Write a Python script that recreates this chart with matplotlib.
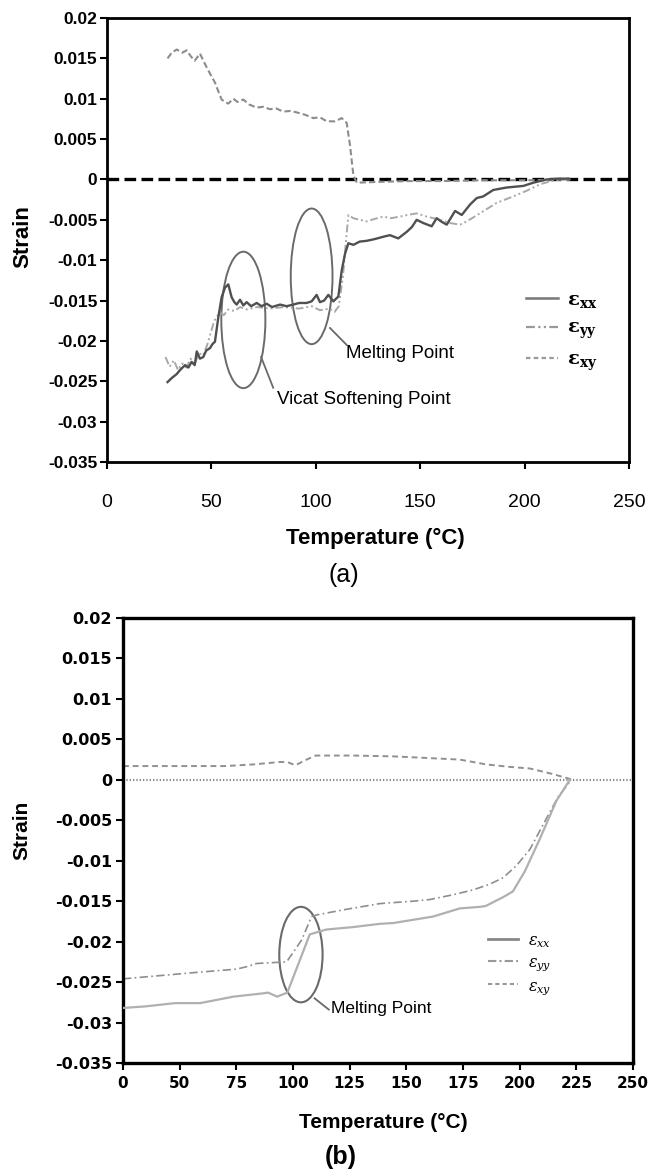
import numpy as np
import matplotlib
matplotlib.use("Agg")
import matplotlib.pyplot as plt
from matplotlib.patches import Ellipse

plt.rcParams['mathtext.fontset'] = 'dejavuserif'

# ---- (a) strain vs temperature ----
a_xx_t = [29, 31, 33.4, 35, 37.4, 39, 40.5, 42, 43, 44.5, 46.1, 47.5, 49.3, 50.5, 51.7,
          53.3, 54.9, 56.5, 58.1, 59.7, 61, 62.1, 63.7, 65.3, 66.9, 69, 71.7, 74, 76.5,
          79, 82.9, 86, 89.2, 92, 95.6, 98, 100.4, 102, 104, 106, 108.4, 110.8, 112.4,
          114, 115.6, 118, 121, 124.4, 128, 132.3, 135.5, 139.5, 143.5, 146, 148.3,
          151.5, 155.5, 157.9, 160, 162.7, 166.7, 169.9, 173.9, 177.1, 180.2, 185,
          191.4, 199.4, 204.2, 210.6, 217, 221]
a_xx = [-0.0251, -0.0246, -0.0241, -0.0236, -0.0230, -0.0233, -0.0226, -0.0230, -0.0213,
        -0.0222, -0.0220, -0.0212, -0.0209, -0.0204, -0.0201, -0.0171, -0.0146, -0.0134,
        -0.0130, -0.0146, -0.0152, -0.0155, -0.0149, -0.0156, -0.0152, -0.0157, -0.0153,
        -0.0157, -0.0154, -0.0158, -0.0155, -0.0157, -0.0155, -0.0153, -0.0153, -0.0151,
        -0.0143, -0.0152, -0.0150, -0.0143, -0.0151, -0.0145, -0.0113, -0.0092, -0.0079,
        -0.0081, -0.0077, -0.0076, -0.0074, -0.0071, -0.0069, -0.0073, -0.0065, -0.0059,
        -0.0050, -0.0054, -0.0058, -0.0048, -0.0052, -0.0056, -0.0039, -0.0044, -0.0031,
        -0.0023, -0.0021, -0.0013, -0.0010, -0.0008, -0.0004, 0.0000, 0.0001, 0.0001]

a_yy_t = [28, 30, 32, 34, 36, 38, 40, 42, 44, 46, 48, 50.8, 52, 54.1, 56, 58, 61, 63.7,
          67, 72, 78, 85, 92, 98, 102, 106.6, 109, 111, 113, 114.5, 115.6, 118, 121.2,
          124.4, 128, 132.3, 136, 140.3, 144, 148.3, 153.1, 159.5, 164.3, 169.1, 172.3,
          178.6, 186.6, 194.6, 201, 207.4, 214, 222]
a_yy = [-0.0220, -0.0232, -0.0224, -0.0236, -0.0228, -0.0233, -0.0222, -0.0229, -0.0215,
        -0.0218, -0.0205, -0.0180, -0.0172, -0.0165, -0.0168, -0.0161, -0.0163, -0.0158,
        -0.0161, -0.0158, -0.0160, -0.0158, -0.0160, -0.0157, -0.0162, -0.0160, -0.0164,
        -0.0157, -0.0120, -0.0075, -0.0044, -0.0048, -0.0050, -0.0052, -0.0049, -0.0046,
        -0.0048, -0.0046, -0.0044, -0.0042, -0.0046, -0.0050, -0.0054, -0.0056, -0.0052,
        -0.0042, -0.0029, -0.0021, -0.0014, -0.0006, -0.0001, 0.0000]

a_xy_t = [29, 31, 33.4, 36, 38.2, 40, 42, 44.5, 47.7, 50, 51.7, 53.5, 54.9, 56.5, 58.1,
          60.5, 62.5, 65.3, 68, 71.6, 75, 78, 81, 84.4, 88, 92.4, 95, 98.8, 102, 105.2,
          109.2, 112.4, 114.8, 116.4, 118, 119.6, 130, 145, 160, 180, 200, 222]
a_xy = [0.0150, 0.0157, 0.0161, 0.0157, 0.0160, 0.0153, 0.0147, 0.0156, 0.0139, 0.0128,
        0.0120, 0.0108, 0.0099, 0.0096, 0.0094, 0.0100, 0.0096, 0.0099, 0.0093, 0.0089,
        0.0090, 0.0087, 0.0088, 0.0084, 0.0085, 0.0082, 0.0080, 0.0076, 0.0077, 0.0072,
        0.0072, 0.0076, 0.0070, 0.0042, 0.0005, -0.0004, -0.0003, -0.0002, -0.0002,
        -0.0001, -0.0001, 0.0000]

# ---- (b) strain vs temperature ----
b_xx_t = [0, 20, 45.9, 59, 73.7, 86.5, 89, 93, 97.5, 107.4, 114.8, 126.5, 138.3, 144.2,
          161.8, 173.5, 182.4, 185, 192.7, 197, 202.3, 208.9, 216.2, 222.1]
b_xx = [-0.0282, -0.0280, -0.0276, -0.0276, -0.0268, -0.0264, -0.0263, -0.0268, -0.0263,
        -0.0191, -0.0185, -0.0182, -0.0178, -0.0177, -0.0169, -0.0159, -0.0157, -0.0156,
        -0.0145, -0.0138, -0.0113, -0.0073, -0.0026, 0.0]

b_yy_t = [0, 32.6, 57.5, 75.1, 79.5, 84, 97.2, 103.8, 108.2, 110.4, 123.6, 138.3, 153,
          160.3, 170.7, 179.5, 186.8, 192.7, 198.6, 204.5, 208.9, 213.3, 217, 222.8]
b_yy = [-0.0246, -0.0242, -0.0238, -0.0234, -0.0231, -0.0227, -0.0225, -0.0198, -0.0169,
        -0.0167, -0.0160, -0.0153, -0.0150, -0.0148, -0.0142, -0.0136, -0.0129, -0.0121,
        -0.0106, -0.0086, -0.0063, -0.0040, -0.0021, 0.0]

b_xy_t = [0, 25, 50, 70, 82.5, 94, 97.5, 101, 106, 110, 126.5, 144, 159, 173.6, 185.3,
          195.6, 204.5, 214.8, 223.5]
b_xy = [0.0017, 0.0017, 0.0017, 0.0017, 0.0019, 0.0022, 0.0022, 0.0018, 0.0025, 0.0030,
        0.0030, 0.0029, 0.0027, 0.0025, 0.0019, 0.0016, 0.0014, 0.0007, 0.0]

a_xticks = [0, 50, 100, 150, 200, 250]
b_xticks = [0, 50, 75, 100, 125, 150, 175, 200, 225, 250]
yticks = [0.02, 0.015, 0.01, 0.005, 0, -0.005, -0.01, -0.015, -0.02, -0.025, -0.03, -0.035]
ytick_labels = ['0.02', '0.015', '0.01', '0.005', '0', '-0.005', '-0.01', '-0.015',
                '-0.02', '-0.025', '-0.03', '-0.035']

leg_labels = [r'$\mathbf{\varepsilon_{xx}}$', r'$\mathbf{\varepsilon_{yy}}$',
              r'$\mathbf{\varepsilon_{xy}}$']
leg_labels_b = [r'$\varepsilon_{xx}$', r'$\varepsilon_{yy}$', r'$\varepsilon_{xy}$']

arial = ['Liberation Sans', 'DejaVu Sans']

W, H = 650, 1173
fig = plt.figure(figsize=(W / 100, H / 100), dpi=100)


def frame(ax, lw):
    for s in ax.spines.values():
        s.set_linewidth(lw)
        s.set_color('black')


# ================= panel (a) =================
ax1 = fig.add_axes([107 / W, 1 - 462 / H, (629 - 107) / W, (462 - 18) / H])
ax1.set_xlim(0, 250)
ax1.set_ylim(-0.035, 0.02)
frame(ax1, 2.0)
ax1.axhline(0, color='black', lw=2.4, ls=(0, (3.5, 1.6)), zorder=1)

ax1.plot(a_xy_t, a_xy, color='#8c8c8c', lw=1.5, ls=(0, (3, 1.5)), zorder=2)
ax1.plot(a_yy_t, a_yy, color='#a8a8a8', lw=1.4, ls=(0, (4, 1.5, 1, 1.5, 1, 1.5)), zorder=2)
ax1.plot(a_xx_t, a_xx, color='#505050', lw=1.7, zorder=3)

ax1.add_patch(Ellipse((65.3, -0.0174), 21.1, 0.0169, fill=False, ec='#6a6a6a', lw=1.4))
ax1.add_patch(Ellipse((98.0, -0.0120), 20.0, 0.0168, fill=False, ec='#6a6a6a', lw=1.4))
ax1.plot([73.8, 79.6], [-0.0220, -0.0258], color='#6a6a6a', lw=1.3)
ax1.plot([106.8, 114.8], [-0.0184, -0.0205], color='#6a6a6a', lw=1.3)
ax1.text(81.4, -0.0272, 'Vicat Softening Point', family=arial, fontsize=13.5,
         va='center', ha='left')
ax1.text(114.5, -0.0215, 'Melting Point', family=arial, fontsize=13.5,
         va='center', ha='left')

ax1.set_xticks(a_xticks)
ax1.set_xticklabels([str(t) for t in a_xticks], family=arial, fontsize=14)
ax1.set_yticks(yticks)
ax1.set_yticklabels(ytick_labels, family=arial, fontsize=12.5, fontweight='bold')
ax1.tick_params(axis='x', length=5, width=1.5, pad=18)
ax1.tick_params(axis='y', length=5, width=1.5, pad=2)

h1 = ax1.plot([], [], color='#777777', lw=1.8)[0]
h2 = ax1.plot([], [], color='#999999', lw=1.6, ls=(0, (4, 1.5, 1, 1.5, 1, 1.5)))[0]
h3 = ax1.plot([], [], color='#999999', lw=1.6, ls=(0, (2, 1.5)))[0]
ax1.legend([h1, h2, h3], leg_labels, frameon=False, loc='upper left',
           bbox_to_anchor=(0.785, 0.41), fontsize=14, handlelength=1.6,
           handletextpad=0.5, labelspacing=0.45, borderpad=0)

fig.text(23 / W, 1 - 237 / H, 'Strain', rotation=90, family=arial, fontsize=16,
         fontweight='bold', ha='center', va='center')
fig.text(375 / W, 1 - 538 / H, 'Temperature (°C)', family=arial, fontsize=16,
         fontweight='bold', ha='center', va='center')
fig.text(344 / W, 1 - 575 / H, '(a)', family=arial, fontsize=18,
         ha='center', va='center')

# ================= panel (b) =================
ax2 = fig.add_axes([123 / W, 1 - 1063 / H, (633 - 123) / W, (1063 - 618) / H])


def to_pos(t):
    return np.interp(t, b_xticks, np.arange(len(b_xticks)))


def from_pos(p):
    return np.interp(p, np.arange(len(b_xticks)), b_xticks)


ax2.set_xscale('function', functions=(to_pos, from_pos))
ax2.set_xlim(0, 250)
ax2.set_ylim(-0.035, 0.02)
frame(ax2, 2.4)
ax2.axhline(0, color='#8a8a8a', lw=1.6, ls=(0, (0.6, 0.9)), zorder=1)

ax2.plot(b_xy_t, b_xy, color='#909090', lw=1.4, ls=(0, (3, 2)), zorder=2)
ax2.plot(b_yy_t, b_yy, color='#8e8e8e', lw=1.2, ls=(0, (5, 2, 1, 2)), zorder=2)
ax2.plot(b_xx_t, b_xx, color='#b0b0b0', lw=1.6, zorder=3)

ax2.add_patch(Ellipse((103.5, -0.0216), 19.1, 0.0118, fill=False, ec='#6a6a6a', lw=1.5))
ax2.plot([109.5, 115.8], [-0.0270, -0.0284], color='#6a6a6a', lw=1.3)
ax2.text(116.7, -0.0283, 'Melting Point', family=arial, fontsize=12.5,
         va='center', ha='left')

ax2.set_xticks(b_xticks)
ax2.set_xticklabels([str(t) for t in b_xticks], family=['DejaVu Sans'], fontsize=11,
                    fontweight='bold')
ax2.xaxis.set_minor_locator(matplotlib.ticker.NullLocator())
ax2.set_yticks(yticks)
ax2.set_yticklabels(ytick_labels, family=['DejaVu Sans'], fontsize=11.5,
                    fontweight='bold')
ax2.tick_params(axis='x', length=5, width=1.5, pad=4)
ax2.tick_params(axis='y', length=5, width=1.5, pad=3)

g1 = ax2.plot([], [], color='#888888', lw=2.0)[0]
g2 = ax2.plot([], [], color='#999999', lw=1.5, ls=(0, (4, 1.5, 1, 1.5)))[0]
g3 = ax2.plot([], [], color='#999999', lw=1.5, ls=(0, (2, 1.5)))[0]
ax2.legend([g1, g2, g3], leg_labels_b, frameon=False, loc='upper left',
           bbox_to_anchor=(0.70, 0.31), fontsize=11.5, handlelength=1.9,
           handletextpad=0.6, labelspacing=0.3, borderpad=0)

fig.text(22 / W, 1 - 830 / H, 'Strain', rotation=90, family=arial, fontsize=15,
         fontweight='bold', ha='center', va='center')
fig.text(383 / W, 1 - 1123 / H, 'Temperature (°C)', family=arial, fontsize=15,
         fontweight='bold', ha='center', va='center')
fig.text(341 / W, 1 - 1157 / H, '(b)', family=arial, fontsize=18,
         fontweight='bold', ha='center', va='center')

fig.savefig('out.png', dpi=100)
